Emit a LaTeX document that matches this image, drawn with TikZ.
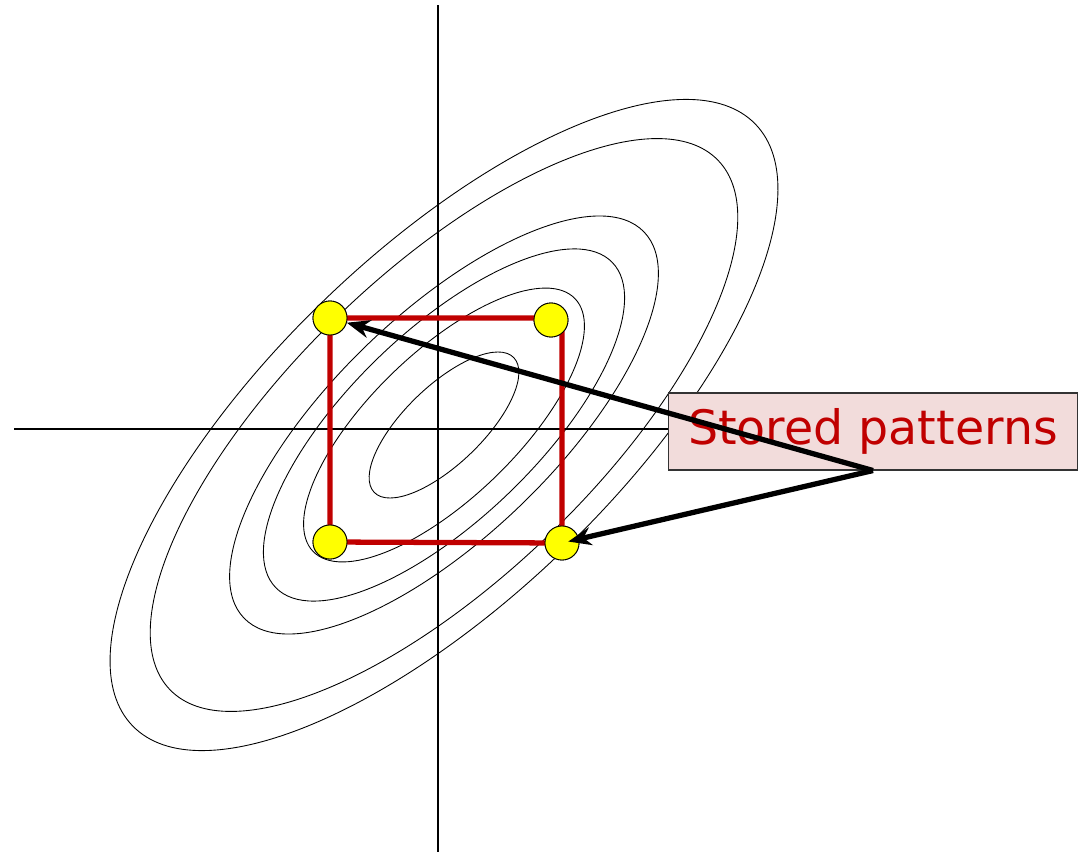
\documentclass[tikz,border=0pt]{standalone}
\usepackage{fontspec}
\usepackage{tikz}
\usetikzlibrary{arrows.meta, calc}
\newfontfamily\labelfont{DejaVu Sans}
\definecolor{keyred}{RGB}{192, 0, 0}
\definecolor{boxpink}{RGB}{242, 220, 219}
\definecolor{dotyellow}{RGB}{255, 255, 0}

\begin{document}
\begin{tikzpicture}[x=0.02cm, y=-0.02cm, >=Stealth,
  contour/.style={draw=black, line width=0.5pt},
  pattern/.style={circle, draw=black, line width=0.5pt, fill=dotyellow,
                  minimum size=0.68cm, inner sep=0pt},
  ptr/.style={-{Stealth[length=4.6mm, width=3.6mm]}, line width=3pt}]
  \useasboundingbox (0,0) rectangle (1083,852);
  % Contours
  \coordinate (c) at (444,425);
  \foreach \a/\b in {97/39, 182/73, 234/94, 278/111, 381/152, 433/173}{
    \draw[contour, rotate around={44:(c)}] (c) ellipse [x radius=\a, y radius=\b];
  }
  % Axes
  \draw[line width=0.9pt] (438,5) -- (438,852);
  \draw[line width=0.9pt] (14,429) -- (700,429);
  % Stored patterns
  \node[pattern] (tl) at (330,318) {};
  \node[pattern] (tr) at (551,320) {};
  \node[pattern] (br) at (562,543) {};
  \node[pattern] (bl) at (330,542) {};
  \draw[keyred, line width=3pt] (tl.center) -- (tl.center -| br.center)
        -- (br.center) -- (bl.center) -- cycle;
  \foreach \p in {tl, tr, br, bl}{
    \node[pattern] at (\p) {};
  }
  % Label
  \node[draw=black!80, line width=0.6pt, fill=boxpink, minimum width=8.2cm,
        minimum height=1.54cm, text=keyred,
        font=\labelfont\fontsize{27}{31}\selectfont] (lbl) at (873,431.5)
        {Stored patterns};
  \draw[ptr] (lbl.south) -- (tl);
  \draw[ptr, shorten >=-2.2mm] (lbl.south) -- (br);
\end{tikzpicture}
\end{document}
